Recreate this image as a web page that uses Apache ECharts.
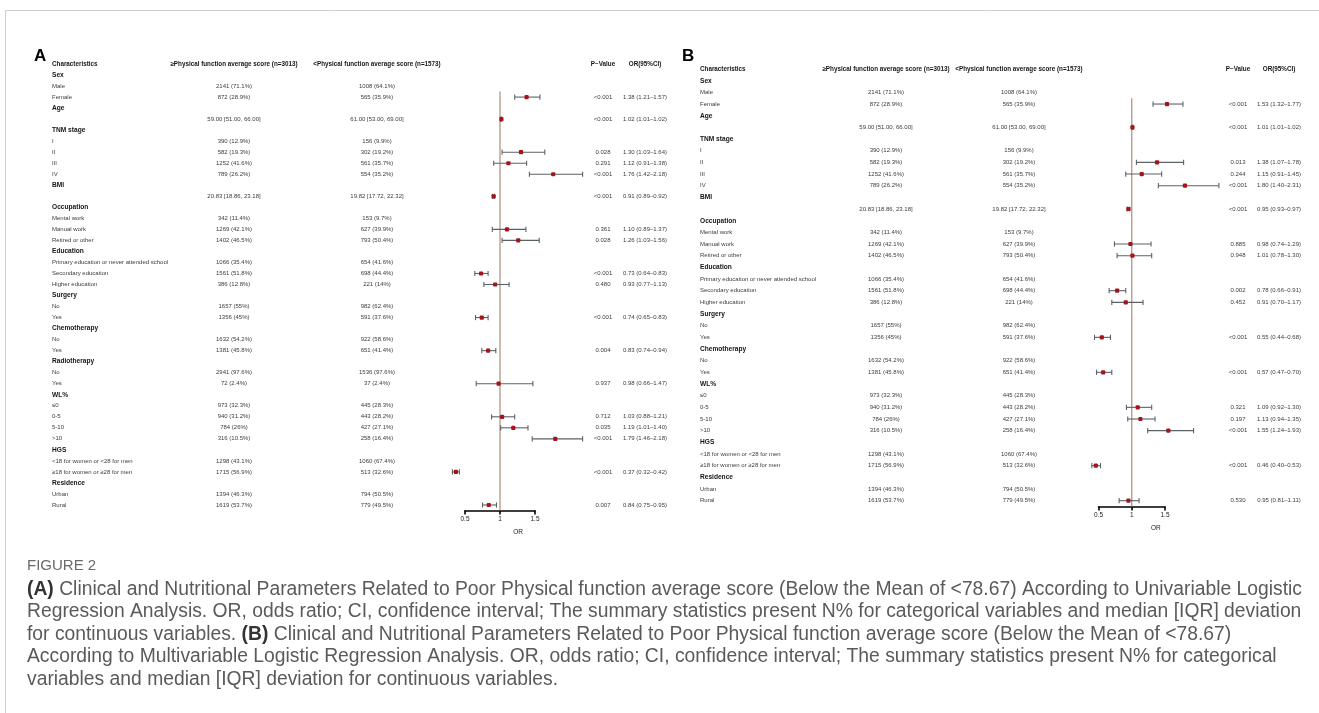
<!DOCTYPE html>
<html>
<head>
<meta charset="utf-8">
<script src="https://cdn.jsdelivr.net/npm/echarts@6/dist/echarts.min.js"></script>
<style>
  html, body { margin: 0; padding: 0; background: #ffffff; }
  #chart { width: 1319px; height: 713px; }
</style>
</head>
<body>
<div id="chart"></div>
<script>
// ---- Table rows (shared by both models) ----
const characteristics = [
  'Sex', 'Male', 'Female',
  'Age', '',
  'TNM stage', 'I', 'II', 'III', 'IV',
  'BMI', '',
  'Occupation', 'Mental work', 'Manual work', 'Retired or other',
  'Education', 'Primary education or never attended school', 'Secondary education', 'Higher education',
  'Surgery', 'No', 'Yes',
  'Chemotherapy', 'No', 'Yes',
  'Radiotherapy', 'No', 'Yes',
  'WL%', '≤0', '0-5', '5-10', '>10',
  'HGS', '<18 for women or <28 for men', '≥18 for women or ≥28 for men',
  'Residence', 'Urban', 'Rural'
];
const groupHeaders = ['Sex', 'Age', 'TNM stage', 'BMI', 'Occupation', 'Education', 'Surgery',
  'Chemotherapy', 'Radiotherapy', 'WL%', 'HGS', 'Residence'];

const aboveMean = [
  '', '2141 (71.1%)', '872 (28.9%)',
  '', '59.00 [51.00, 66.00]',
  '', '390 (12.9%)', '582 (19.3%)', '1252 (41.6%)', '789 (26.2%)',
  '', '20.83 [18.86, 23.18]',
  '', '342 (11.4%)', '1269 (42.1%)', '1402 (46.5%)',
  '', '1066 (35.4%)', '1561 (51.8%)', '386 (12.8%)',
  '', '1657 (55%)', '1356 (45%)',
  '', '1632 (54.2%)', '1381 (45.8%)',
  '', '2941 (97.6%)', '72 (2.4%)',
  '', '973 (32.3%)', '940 (31.2%)', '784 (26%)', '316 (10.5%)',
  '', '1298 (43.1%)', '1715 (56.9%)',
  '', '1394 (46.3%)', '1619 (53.7%)'
];
const belowMean = [
  '', '1008 (64.1%)', '565 (35.9%)',
  '', '61.00 [53.00, 69.00]',
  '', '156 (9.9%)', '302 (19.2%)', '561 (35.7%)', '554 (35.2%)',
  '', '19.82 [17.72, 22.32]',
  '', '153 (9.7%)', '627 (39.9%)', '793 (50.4%)',
  '', '654 (41.6%)', '698 (44.4%)', '221 (14%)',
  '', '982 (62.4%)', '591 (37.6%)',
  '', '922 (58.6%)', '651 (41.4%)',
  '', '1536 (97.6%)', '37 (2.4%)',
  '', '445 (28.3%)', '443 (28.2%)', '427 (27.1%)', '258 (16.4%)',
  '', '1060 (67.4%)', '513 (32.6%)',
  '', '794 (50.5%)', '779 (49.5%)'
];

const headerChar = 'Characteristics';
const headerAbove = '≥Physical function average score (n=3013)';
const headerBelow = '<Physical function average score (n=1573)';
const headerP = 'P−Value';
const headerOR = 'OR(95%CI)';

// ---- Univariable model (panel A); row numbers refer to the full table ----
const rowsUni  = [2, 4, 7, 8, 9, 11, 14, 15, 18, 19, 22, 25, 28, 31, 32, 33, 36, 39];
const pUni     = ['<0.001', '<0.001', '0.028', '0.291', '<0.001', '<0.001', '0.361', '0.028', '<0.001',
                  '0.480', '<0.001', '0.004', '0.937', '0.712', '0.035', '<0.001', '<0.001', '0.007'];
const orUni    = [1.38, 1.02, 1.30, 1.12, 1.76, 0.91, 1.10, 1.26, 0.73, 0.93, 0.74, 0.83, 0.98, 1.03, 1.19, 1.79, 0.37, 0.84];
const lowUni   = [1.21, 1.01, 1.03, 0.91, 1.42, 0.89, 0.89, 1.03, 0.64, 0.77, 0.65, 0.74, 0.66, 0.88, 1.01, 1.46, 0.32, 0.75];
const highUni  = [1.57, 1.02, 1.64, 1.38, 2.18, 0.92, 1.37, 1.56, 0.83, 1.13, 0.83, 0.94, 1.47, 1.21, 1.40, 2.18, 0.42, 0.95];

// ---- Multivariable model (panel B); Radiotherapy is not in this model ----
const droppedInMulti = 'Radiotherapy';
const rowsMulti  = [2, 4, 7, 8, 9, 11, 14, 15, 18, 19, 22, 25, 28, 29, 30, 33, 36];
const pMulti     = ['<0.001', '<0.001', '0.013', '0.244', '<0.001', '<0.001', '0.885', '0.948', '0.002',
                    '0.452', '<0.001', '<0.001', '0.321', '0.197', '<0.001', '<0.001', '0.530'];
const orMulti    = [1.53, 1.01, 1.38, 1.15, 1.80, 0.95, 0.98, 1.01, 0.78, 0.91, 0.55, 0.57, 1.09, 1.13, 1.55, 0.46, 0.95];
const lowMulti   = [1.32, 1.01, 1.07, 0.91, 1.40, 0.93, 0.74, 0.78, 0.66, 0.70, 0.44, 0.47, 0.92, 0.94, 1.24, 0.40, 0.81];
const highMulti  = [1.77, 1.02, 1.78, 1.45, 2.31, 0.97, 1.29, 1.30, 0.91, 1.17, 0.68, 0.70, 1.30, 1.35, 1.93, 0.53, 1.11];

const referenceOR = 1;

const captionLines = [
  '{b|(A)} Clinical and Nutritional Parameters Related to Poor Physical function average score (Below the Mean of <78.67) According to Univariable Logistic',
  'Regression Analysis. OR, odds ratio; CI, confidence interval; The summary statistics present N% for categorical variables and median [IQR] deviation',
  'for continuous variables. {b|(B)} Clinical and Nutritional Parameters Related to Poor Physical function average score (Below the Mean of <78.67)',
  'According to Multivariable Logistic Regression Analysis. OR, odds ratio; CI, confidence interval; The summary statistics present N% for categorical',
  'variables and median [IQR] deviation for continuous variables.'
];

// ---- helpers ----
const FONT = '"Liberation Sans", Arial, Helvetica, sans-serif';
const groupSet = new Set(groupHeaders);

// remove one group block (header + its rows) from a table column
function withoutGroup(column, group) {
  const start = characteristics.indexOf(group);
  let end = start + 1;
  while (end < characteristics.length && !groupSet.has(characteristics[end])) end++;
  return column.filter((_, i) => i < start || i >= end);
}

// expand model estimates into full-length table columns
function spread(rows, values, length) {
  const out = new Array(length).fill('');
  rows.forEach((r, k) => { out[r] = values[k]; });
  return out;
}
const fmtOR = (o, l, h) => `${o.toFixed(2)} (${l.toFixed(2)}–${h.toFixed(2)})`;

function columnAxis(gridIndex, header, cells, position, offset, align, isCharColumn) {
  return {
    type: 'category',
    gridIndex,
    position,
    offset,
    inverse: true,
    data: [header].concat(cells),
    axisLine: { show: false },
    axisTick: { show: false },
    splitLine: { show: false },
    axisLabel: {
      interval: 0,
      margin: 0,
      align,
      fontFamily: FONT,
      fontSize: 6,
      color: '#3c3c3c',
      formatter: (v, i) => {
        if (i === 0) return `{hd|${v}}`;
        if (isCharColumn && groupSet.has(v)) return `{grp|${v}}`;
        return v;
      },
      rich: {
        hd: { fontFamily: FONT, fontWeight: 'bold', fontSize: 6.3, color: '#151515' },
        grp: { fontFamily: FONT, fontWeight: 'bold', fontSize: 6.6, color: '#151515' }
      }
    }
  };
}

// forest panel description
function buildPanel(cfg) {
  const n = cfg.chars.length;
  const pCol = spread(cfg.rows, cfg.p, n);
  const orCol = spread(cfg.rows, cfg.or.map((o, k) => fmtOR(o, cfg.low[k], cfg.high[k])), n);
  const g = cfg.gridIndex;
  const gridRight = cfg.grid.left + cfg.grid.width;
  const yAxes = [
    columnAxis(g, headerChar, cfg.chars, 'left', cfg.grid.left - cfg.cols.char, 'left', true),
    columnAxis(g, headerAbove, cfg.above, 'left', cfg.grid.left - cfg.cols.above, 'center', false),
    columnAxis(g, headerBelow, cfg.below, 'left', cfg.grid.left - cfg.cols.below, 'center', false),
    columnAxis(g, headerP, pCol, 'right', cfg.cols.p - gridRight, 'center', false),
    columnAxis(g, headerOR, orCol, 'right', cfg.cols.or - gridRight, 'center', false)
  ];
  const xAxis = {
    type: 'value',
    gridIndex: g,
    min: 0.5,
    max: 1.5,
    interval: 0.5,
    axisLine: { show: true, lineStyle: { color: '#000', width: 1.6 } },
    axisTick: { show: true, length: 4, lineStyle: { color: '#000', width: 1.6 } },
    axisLabel: { fontFamily: FONT, fontSize: 6.5, color: '#222', margin: 5 },
    splitLine: { show: false },
    name: 'OR',
    nameLocation: 'middle',
    nameGap: 18,
    nameTextStyle: { fontFamily: FONT, fontSize: 6.5, color: '#222', padding: [0, 0, 0, cfg.orNameShift] }
  };
  const estimates = cfg.rows.map((r, k) => [cfg.or[k], cfg.low[k], cfg.high[k], r + 1]);
  return { grid: cfg.grid, yAxes, xAxis, estimates };
}

const charsMulti = withoutGroup(characteristics, droppedInMulti);
const panelA = buildPanel({
  gridIndex: 0,
  grid: { left: 465, width: 70, top: 58.5, height: 452 },
  cols: { char: 52, above: 234, below: 377, p: 603, or: 645 },
  chars: characteristics, above: aboveMean, below: belowMean,
  rows: rowsUni, p: pUni, or: orUni, low: lowUni, high: highUni,
  orNameShift: 36
});
const panelB = buildPanel({
  gridIndex: 1,
  grid: { left: 1098.5, width: 66.5, top: 63.2, height: 443.3 },
  cols: { char: 700, above: 886, below: 1019, p: 1238, or: 1279 },
  chars: charsMulti,
  above: withoutGroup(aboveMean, droppedInMulti),
  below: withoutGroup(belowMean, droppedInMulti),
  rows: rowsMulti, p: pMulti, or: orMulti, low: lowMulti, high: highMulti,
  orNameShift: 48
});

// confidence interval whisker + point estimate
function renderEstimate(params, api) {
  const cat = api.value(3);
  const p = api.coord([api.value(0), cat]);
  const l = api.coord([api.value(1), cat]);
  const h = api.coord([api.value(2), cat]);
  const cap = 2.6;
  const lineStyle = { stroke: '#5a6266', lineWidth: 1.1 };
  return {
    type: 'group',
    children: [
      { type: 'line', shape: { x1: l[0], y1: p[1], x2: h[0], y2: p[1] }, style: lineStyle },
      { type: 'line', shape: { x1: l[0], y1: p[1] - cap, x2: l[0], y2: p[1] + cap }, style: lineStyle },
      { type: 'line', shape: { x1: h[0], y1: p[1] - cap, x2: h[0], y2: p[1] + cap }, style: lineStyle },
      { type: 'rect', shape: { x: p[0] - 2.1, y: p[1] - 2.1, width: 4.2, height: 4.2, r: 1 },
        style: { fill: '#a3151b' } }
    ]
  };
}

// vertical reference line at OR = 1, starting between the first two rows of Sex
function renderReference(params, api) {
  const top = api.coord([api.value(0), api.value(1)]);
  const band = api.size([0, 1])[1];
  const bottom = params.coordSys.y + params.coordSys.height;
  return {
    type: 'line',
    shape: { x1: top[0], y1: top[1] + band / 2, x2: top[0], y2: bottom },
    style: { stroke: '#b39584', lineWidth: 1.3 }
  };
}

const chart = echarts.init(document.getElementById('chart'), null, { renderer: 'canvas' });

chart.setOption({
  backgroundColor: '#ffffff',
  animation: false,
  grid: [panelA.grid, panelB.grid].map(g => Object.assign({ outerBoundsMode: 'none', containLabel: false }, g)),
  xAxis: [panelA.xAxis, panelB.xAxis],
  yAxis: panelA.yAxes.concat(panelB.yAxes),
  series: [
    { type: 'custom', xAxisIndex: 0, yAxisIndex: 0, z: 1, renderItem: renderReference,
      data: [[referenceOR, characteristics.indexOf('Male') + 1]] },
    { type: 'custom', xAxisIndex: 0, yAxisIndex: 0, z: 2, renderItem: renderEstimate,
      encode: { x: [0, 1, 2], y: 3 }, data: panelA.estimates },
    { type: 'custom', xAxisIndex: 1, yAxisIndex: 5, z: 1, renderItem: renderReference,
      data: [[referenceOR, charsMulti.indexOf('Male') + 1]] },
    { type: 'custom', xAxisIndex: 1, yAxisIndex: 5, z: 2, renderItem: renderEstimate,
      encode: { x: [0, 1, 2], y: 3 }, data: panelB.estimates }
  ],
  graphic: [
    { type: 'line', shape: { x1: 5, y1: 10.5, x2: 1319, y2: 10.5 }, style: { stroke: '#cfcfcf', lineWidth: 1 } },
    { type: 'line', shape: { x1: 5.5, y1: 10, x2: 5.5, y2: 713 }, style: { stroke: '#cfcfcf', lineWidth: 1 } },
    { type: 'text', x: 34, y: 48, style: { text: 'A', fill: '#000', font: 'bold 17px ' + FONT } },
    { type: 'text', x: 682, y: 48, style: { text: 'B', fill: '#000', font: 'bold 17px ' + FONT } },
    { type: 'text', x: 27, y: 566, style: { text: 'FIGURE 2', fill: '#6a6a6a', font: '15px ' + FONT, verticalAlign: 'middle' } }
  ].concat(captionLines.map((line, i) => ({
    type: 'text',
    x: 27,
    y: 589 + i * 22.5,
    scaleX: 0.965,
    style: {
      text: line,
      fill: '#5a5a5a',
      font: '20px ' + FONT,
      verticalAlign: 'middle',
      rich: { b: { fontWeight: 'bold', fill: '#333333', fontFamily: FONT, fontSize: 20 } }
    }
  })))
});
</script>
</body>
</html>
